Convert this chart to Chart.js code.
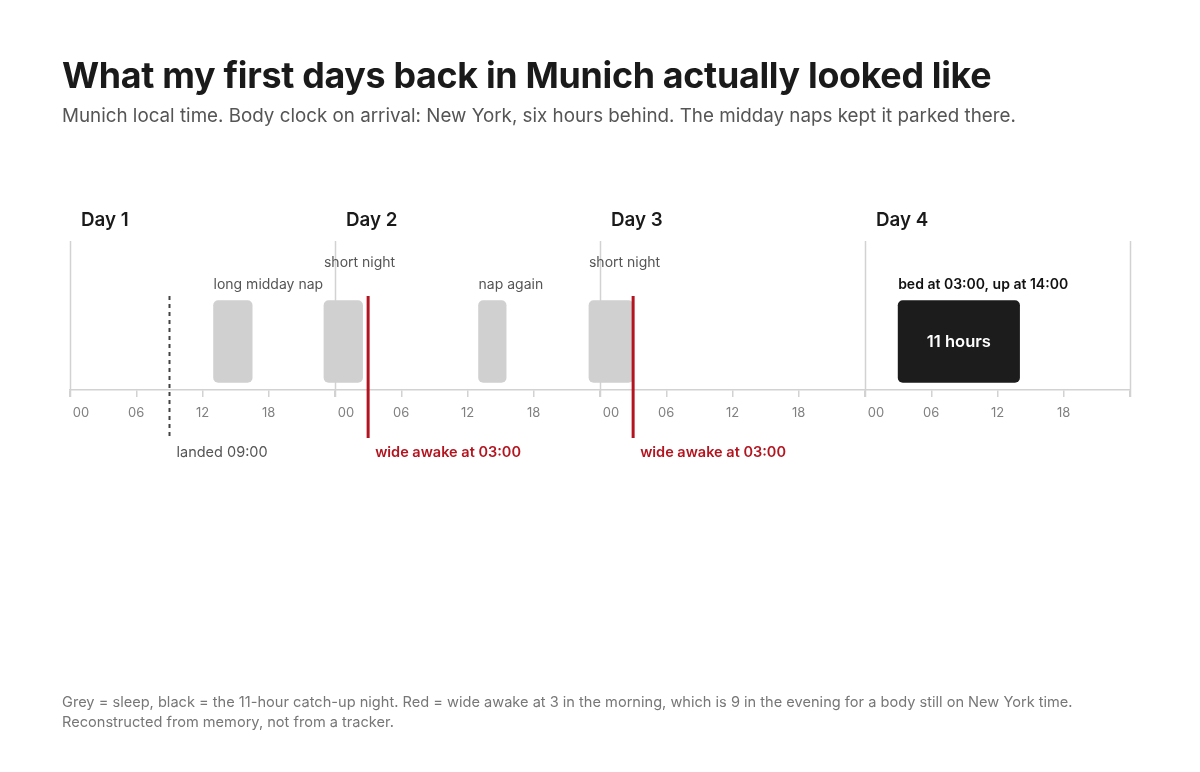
<!DOCTYPE html>
<html>
<head>
<meta charset="utf-8">
<title>First days back in Munich</title>
<script src="https://cdn.jsdelivr.net/npm/chart.js@4"></script>
<style>
  body { margin: 0; background: #fff; font-family: Inter, "Noto Sans", sans-serif; }
  #wrap { position: relative; width: 1200px; height: 772px; }
  #wrap canvas { position: absolute; left: 0; top: 0; }
  h1 { position: absolute; left: 62px; top: 53px; margin: 0; font-size: 35.8px; line-height: 44px; font-weight: 700; color: #1a1a1a; letter-spacing: -0.3px; }
  .sub { position: absolute; left: 62px; top: 104px; margin: 0; font-size: 18.8px; line-height: 24px; color: #555; }
  .foot { position: absolute; left: 62px; top: 692px; margin: 0; font-size: 14.6px; line-height: 20px; color: #777; }
</style>
</head>
<body>
<div id="wrap">
  <canvas id="timeline"></canvas>
  <h1>What my first days back in Munich actually looked like</h1>
  <p class="sub">Munich local time. Body clock on arrival: New York, six hours behind. The midday naps kept it parked there.</p>
  <p class="foot">Grey = sleep, black = the 11-hour catch-up night. Red = wide awake at 3 in the morning, which is 9 in the evening for a body still on New York time.<br>Reconstructed from memory, not from a tracker.</p>
</div>
<script>
// --- data (hours counted from Day 1 00:00, Munich time) ---
const dayLabels = ['Day 1', 'Day 2', 'Day 3', 'Day 4'];
const sleepStart = [13, 23, 37, 47];
const sleepEnd = [16.5, 26.5, 39.5, 51];
const sleepNotes = ['long midday nap', 'short night', 'nap again', 'short night'];
const catchupStart = [75];
const catchupEnd = [86];
const catchupNote = 'bed at 03:00, up at 14:00';
const catchupLabel = '11 hours';
const landedHour = 9;
const landedNote = 'landed 09:00';
const wideAwakeHours = [27, 51];
const wideAwakeNote = 'wide awake at 03:00';

const RED = '#b3141f';
const FONT = 'Inter, "Noto Sans", sans-serif';

function pad2(n) { return String(n).padStart(2, '0'); }

// lignes des jours, derrière les barres
const dayLines = {
    id: 'dayLines',
    beforeDatasetsDraw(chart) {
        const { ctx, chartArea, scales: { x } } = chart;
        ctx.save();
        ctx.strokeStyle = '#d2d2d2';
        ctx.lineWidth = 1.5;
        for (let d = 0; d <= dayLabels.length; d++) {
            const px = Math.round(x.getPixelForValue(d * 24)) + 0.5;
            ctx.beginPath();
            ctx.moveTo(px, chartArea.top - 52);
            ctx.lineTo(px, chartArea.bottom + 7);
            ctx.stroke();
        }
        ctx.restore();
    }
};

// marqueurs + textes
const annotations = {
    id: 'annotations',
    afterDatasetsDraw(chart) {
        const { ctx, chartArea, scales: { x } } = chart;
        const top = chartArea.top, bottom = chartArea.bottom;
        ctx.save();
        ctx.textBaseline = 'middle';

        // day headers
        ctx.fillStyle = '#1a1a1a';
        ctx.font = '600 18.8px ' + FONT;
        ctx.textAlign = 'left';
        dayLabels.forEach((d, i) => ctx.fillText(d, x.getPixelForValue(i * 24 + 1), top - 73));

        // tick labels
        ctx.font = '13px ' + FONT;
        ctx.fillStyle = '#808080';
        ctx.textAlign = 'center';
        x.ticks.forEach(t => {
            if (t.value >= dayLabels.length * 24) return;
            const h = t.value % 24;
            const px = h === 0 ? x.getPixelForValue(t.value + 1) : x.getPixelForValue(t.value);
            ctx.fillText(pad2(h), px, bottom + 23);
        });

        // sleep notes
        ctx.textAlign = 'left';
        ctx.font = '14px ' + FONT;
        ctx.fillStyle = '#555';
        sleepNotes.forEach((n, i) => {
            const y = n === 'short night' ? top - 30 : top - 8;
            ctx.fillText(n, x.getPixelForValue(sleepStart[i]), y);
        });

        // catch-up night
        ctx.font = '600 14px ' + FONT;
        ctx.fillStyle = '#111';
        ctx.fillText(catchupNote, x.getPixelForValue(catchupStart[0]), top - 8);
        ctx.font = '600 16.5px ' + FONT;
        ctx.fillStyle = '#fff';
        ctx.textAlign = 'center';
        ctx.fillText(catchupLabel, x.getPixelForValue((catchupStart[0] + catchupEnd[0]) / 2), (top + bottom) / 2 + 1);

        // landed
        const lx = Math.round(x.getPixelForValue(landedHour)) + 0.5;
        ctx.strokeStyle = '#444';
        ctx.lineWidth = 2;
        ctx.setLineDash([4, 4]);
        ctx.beginPath();
        ctx.moveTo(lx, top + 3);
        ctx.lineTo(lx, bottom + 47);
        ctx.stroke();
        ctx.setLineDash([]);
        ctx.textAlign = 'left';
        ctx.font = '14.5px ' + FONT;
        ctx.fillStyle = '#555';
        ctx.fillText(landedNote, lx + 7, bottom + 63);

        // wide awake
        ctx.strokeStyle = RED;
        ctx.lineWidth = 3;
        ctx.font = '600 14.5px ' + FONT;
        ctx.fillStyle = RED;
        wideAwakeHours.forEach(h => {
            const px = x.getPixelForValue(h);
            ctx.beginPath();
            ctx.moveTo(px, top + 3);
            ctx.lineTo(px, bottom + 48);
            ctx.stroke();
            ctx.fillText(wideAwakeNote, px + 7, bottom + 63);
        });
        ctx.restore();
    }
};

new Chart(document.getElementById('timeline'), {
    type: 'bar',
    data: {
        labels: ['sleep'],
        datasets: [{
            label: 'sleep',
            data: sleepStart.map((s, i) => ({ x: [s, sleepEnd[i]], y: 'sleep' })),
            backgroundColor: '#d0d0d0',
            grouped: false,
            barThickness: 82,
            borderRadius: 5,
            borderSkipped: false
        }, {
            label: 'catch-up night',
            data: catchupStart.map((s, i) => ({ x: [s, catchupEnd[i]], y: 'sleep' })),
            backgroundColor: '#1c1c1c',
            grouped: false,
            barThickness: 82,
            borderRadius: 5,
            borderSkipped: false
        }]
    },
    options: {
        indexAxis: 'y',
        responsive: true,
        maintainAspectRatio: false,
        animation: false,
        layout: { padding: { left: 70, right: 70, top: 293, bottom: 372 } },
        plugins: { legend: { display: false }, tooltip: { enabled: false } },
        scales: {
            x: {
                type: 'linear',
                min: 0,
                max: dayLabels.length * 24,
                ticks: { stepSize: 6, display: false },
                grid: { drawOnChartArea: false, tickLength: 7, color: '#d2d2d2', lineWidth: 1.5 },
                border: { display: true, color: '#d2d2d2', width: 1.5 },
                afterFit(scale) { scale.height = 10; }
            },
            y: { display: false }
        }
    },
    plugins: [dayLines, annotations]
});
</script>
</body>
</html>
